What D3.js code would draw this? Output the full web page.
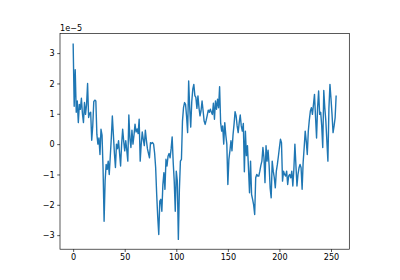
<!DOCTYPE html>
<html>
<head>
<meta charset="utf-8">
<script src="https://cdn.jsdelivr.net/npm/d3@7"></script>
<style>
    body { margin: 0; background: #fff; }
    #chart text { font-family: "DejaVu Sans", sans-serif; font-size: 8.1px; fill: #000; }
</style>
</head>
<body>
<div id="chart"></div>
<script>
// DATA (values in units of 1e-5)

let values = [
    3.32, 1.25, 2.45, 1.05, 1.42, 0.71, 1.31, 1.15, 1.51, 1.0,
    0.71, 1.37, 0.98, 1.3, 2.0, 0.88, 1.02, 1.05, 0.13, 0.6,
    1.4, 1.45, 1.42, 0.32, 0.0, 0.2, -0.34, 0.49, 0.3, -0.8,
    -2.54, -1.2, -0.67, -0.83, -0.56, -1.0, -0.4, 0.2, 0.93, 0.32,
    -0.3, -0.77, 0.0, -0.15, 0.11, -0.3, -0.72, 0.0, 0.49, 0.1,
    -0.22, 0.11, -0.2, -0.56, 0.96, 0.2, -0.11, 0.46, 0.0, 0.3,
    0.66, 0.4, 0.5, 0.35, 0.82, -0.56, 0.0, 0.4, 0.15, -0.05,
    0.46, 0.13, -0.15, -0.3, -0.45, 0.05, 0.02, 0.05, 0.0, -0.3,
    -0.78, -1.66, -2.4, -2.98, -1.88, -1.82, -2.21, -1.33, -0.94, -1.49,
    -0.5, -0.72, -0.4, -0.31, -0.45, -0.15, 0.24, -0.6, -1.22, -2.21,
    -0.89, -1.22, -3.14, -1.5, -0.56, -0.5, 0.76, 1.2, 1.37, 1.31,
    0.9, 0.38, 2.08, 1.2, 0.56, 1.4, 1.81, 1.97, 1.6, 1.54,
    1.18, 1.59, 1.2, 0.93, 1.1, 1.42, 1.1, 0.76, 0.65, 0.79,
    0.95, 1.12, 1.05, 1.15, 1.05, 0.98, 1.35, 0.82, 1.42, 1.15,
    1.48, 1.2, 1.89, 0.71, 0.43, 0.6, 0.0, 0.71, 0.3, 0.0,
    -1.33, -0.5, -0.22, 0.11, -0.22, 0.3, 0.65, 1.07, 0.93, 0.6,
    0.38, 0.71, 0.96, 0.6, 0.43, 0.68, -0.91, 0.43, -0.38, -0.05,
    -0.8, -1.6, -0.56, -1.66, -1.82, -2.0, -2.32, -1.11, -1.0, -1.05,
    -1.05, -0.89, -0.7, -0.56, -0.11, -0.45, -1.27, -0.05, -0.56, -0.2,
    -0.7, -1.44, -1.77, -0.56, -0.89, -1.1, -1.44, -0.89, -0.67, -0.4,
    -0.11, 0.16, 0.05, -1.22, -0.89, -1.0, -1.05, -0.89, -1.33, -1.05,
    -1.0, -1.11, -0.89, -1.38, -0.83, 0.0, -0.7, -1.38, -1.0, -0.78,
    -0.67, -0.78, -1.49, -0.6, -0.11, 0.43, 0.1, -0.34, 0.43, 0.8,
    1.09, 1.2, 0.98, 1.3, 1.64, 0.9, 0.2, 1.2, 1.75, 0.98,
    1.05, 0.6, -0.11, 1.77, 1.2, 0.76, 0.1, -0.56, 1.2, 1.97,
    1.5, 0.98, 0.38, 0.6, 0.87, 1.6
];

let x_ticks = [0, 50, 100, 150, 200, 250];
let y_ticks = [-3, -2, -1, 0, 1, 2, 3];
let offset_label = "1e\u22125";

let line_data = values.map((v, i) => ({index: i, value: v}));

// CHART AREA
let margin = {top: 33.6, right: 50.7, bottom: 30.8, left: 60},
    width = 400 - margin.left - margin.right,
    height = 280 - margin.top - margin.bottom;

let svg = d3.select("#chart").append("svg")
    .attr("width", 400)
    .attr("height", 280)
    .append("g")
    .attr("transform", "translate(" + margin.left + "," + margin.top + ")");

// SCALES (5% padding like matplotlib)
let x_pad = (line_data.length - 1) * 0.05;
let x_scale = d3.scaleLinear()
    .range([0, width])
    .domain([-x_pad, line_data.length - 1 + x_pad]);

let y_ext = d3.extent(values);
let y_pad = (y_ext[1] - y_ext[0]) * 0.05;
let y_scale = d3.scaleLinear()
    .range([height, 0])
    .domain([y_ext[0] - y_pad, y_ext[1] + y_pad]);

// LINE
let line = d3.line()
    .x(d => x_scale(d.index))
    .y(d => y_scale(d.value));

svg.append("path")
    .datum(line_data)
    .attr("fill", "none")
    .attr("stroke", "#1f77b4")
    .attr("stroke-width", 1.4)
    .attr("stroke-linejoin", "round")
    .attr("d", line);

// AXIS
let fmt = d => d < 0 ? "\u2212" + Math.abs(d) : String(d);

let xAxis = d3.axisBottom(x_scale)
    .tickValues(x_ticks)
    .tickFormat(fmt)
    .tickSizeInner(2.8)
    .tickSizeOuter(0)
    .tickPadding(2.6);

let yAxis = d3.axisLeft(y_scale)
    .tickValues(y_ticks)
    .tickFormat(fmt)
    .tickSizeInner(2.8)
    .tickSizeOuter(0)
    .tickPadding(2.6);

let xAxisGroup = svg.append("g")
    .attr("class", "x-axis axis")
    .attr("transform", "translate(0," + height + ")")
    .call(xAxis);

let yAxisGroup = svg.append("g")
    .attr("class", "y-axis axis")
    .call(yAxis);

svg.selectAll(".axis .domain").remove();
svg.selectAll(".axis line").attr("stroke", "#000").attr("stroke-width", 0.65);
svg.selectAll(".axis text").attr("fill", "#000");

// frame (spines)
svg.append("rect")
    .attr("x", 0)
    .attr("y", 0)
    .attr("width", width)
    .attr("height", height)
    .attr("fill", "none")
    .attr("stroke", "#000")
    .attr("stroke-width", 0.65);

// offset text
svg.append("text")
    .attr("x", 0)
    .attr("y", -2.5)
    .text(offset_label);
</script>
</body>
</html>
